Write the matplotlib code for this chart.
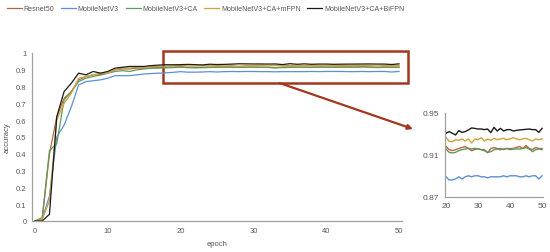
import matplotlib
matplotlib.use("Agg")
import matplotlib.pyplot as plt
from matplotlib.patches import Rectangle
from matplotlib.ticker import FormatStrFormatter, FuncFormatter

plt.rcParams['font.family'] = ['Liberation Sans', 'DejaVu Sans']

epochs = list(range(51))

resnet50 = [0, 0.01, 0.40, 0.62, 0.73, 0.77, 0.84, 0.86, 0.87, 0.87, 0.88, 0.90, 0.905, 0.905, 0.91, 0.91,
            0.91, 0.914, 0.915, 0.916,
            0.918, 0.915, 0.914, 0.915, 0.916, 0.917, 0.918, 0.916, 0.914, 0.915, 0.916, 0.915, 0.915,
            0.912, 0.916, 0.917, 0.916, 0.916, 0.915, 0.916, 0.916, 0.916, 0.917, 0.918, 0.916, 0.919,
            0.916, 0.915, 0.917, 0.916, 0.916]
mobilenetv3 = [0, 0.01, 0.15, 0.50, 0.57, 0.68, 0.81, 0.83, 0.835, 0.84, 0.85, 0.865, 0.865, 0.865, 0.87,
               0.875, 0.878, 0.88, 0.882, 0.885,
               0.889, 0.886, 0.886, 0.887, 0.889, 0.887, 0.889, 0.890, 0.889, 0.890, 0.890, 0.889, 0.889,
               0.888, 0.889, 0.889, 0.889, 0.889, 0.890, 0.889, 0.890, 0.890, 0.890, 0.889, 0.889, 0.890,
               0.889, 0.890, 0.890, 0.887, 0.890]
mnv3_ca = [0, 0.02, 0.42, 0.46, 0.72, 0.77, 0.83, 0.85, 0.86, 0.87, 0.88, 0.89, 0.895, 0.89, 0.90, 0.905,
           0.91, 0.91, 0.912, 0.913,
           0.9156, 0.9124, 0.9118, 0.9124, 0.914, 0.9149, 0.9156, 0.9162, 0.9156, 0.9162, 0.9156, 0.9149,
           0.914, 0.9124, 0.913, 0.9149, 0.9156, 0.9149, 0.9156, 0.9162, 0.9149, 0.9156, 0.9156, 0.9156,
           0.9162, 0.9169, 0.9156, 0.913, 0.9149, 0.9156, 0.9149]
mnv3_ca_mfpn = [0, 0.01, 0.12, 0.60, 0.70, 0.76, 0.85, 0.86, 0.87, 0.88, 0.88, 0.90, 0.91, 0.91, 0.915,
                0.915, 0.92, 0.92, 0.922, 0.924,
                0.9267, 0.9229, 0.9226, 0.9245, 0.9239, 0.9252, 0.9232, 0.9252, 0.9213, 0.9252, 0.9245,
                0.9264, 0.9232, 0.9252, 0.9239, 0.9258, 0.9245, 0.9252, 0.9258, 0.9245, 0.9252, 0.9264,
                0.9252, 0.9245, 0.9252, 0.9258, 0.9245, 0.9232, 0.9252, 0.9245, 0.9252]
mnv3_ca_bifpn = [0, 0.0, 0.04, 0.62, 0.77, 0.82, 0.88, 0.87, 0.89, 0.88, 0.89, 0.91, 0.915, 0.92, 0.92,
                 0.92, 0.925, 0.928, 0.93, 0.93,
                 0.9306, 0.9322, 0.9306, 0.929, 0.9331, 0.9315, 0.9322, 0.9338, 0.9357, 0.9353, 0.9347,
                 0.9347, 0.9341, 0.9347, 0.9312, 0.9363, 0.9328, 0.9353, 0.9328, 0.9341, 0.9341, 0.9328,
                 0.9334, 0.9338, 0.9341, 0.9344, 0.9347, 0.9341, 0.9341, 0.9315, 0.9353]

labels = ['Resnet50', 'MobileNetV3', 'MobileNetV3+CA', 'MobileNetV3+CA+mFPN', 'MobileNetV3+CA+BiFPN']
colors = ['#b8653e', '#5b8fd6', '#5f9a5c', '#cfa23c', '#1a1a1a']
series = [resnet50, mobilenetv3, mnv3_ca, mnv3_ca_mfpn, mnv3_ca_bifpn]

tick_color = '#595959'
box_color = '#a3361e'

fig = plt.figure(figsize=(5.5, 2.53), dpi=100)

# main chart
ax = fig.add_axes([32 / 550, 1 - 222 / 253, 370 / 550, 168 / 253])
for y, c, lab in zip(series, colors, labels):
    ax.plot(epochs, y, color=c, lw=0.9, label=lab)
ax.set_xlim(-0.4, 50.4)
ax.set_ylim(0, 1)
ax.set_xticks(range(0, 51, 10))
ax.set_yticks([i / 10 for i in range(11)])
ax.yaxis.set_major_formatter(FuncFormatter(lambda v, p: f'{v:g}'))
ax.tick_params(length=0, labelsize=5.5, labelcolor=tick_color, pad=4)
for s in ['top', 'right']:
    ax.spines[s].set_visible(False)
for s in ['left', 'bottom']:
    ax.spines[s].set_color('#a0a0a0')
    ax.spines[s].set_linewidth(0.9)
ax.set_xlabel('epoch', fontsize=5.5, color=tick_color, labelpad=5)
ax.set_ylabel('accuracy', fontsize=5.5, color=tick_color, labelpad=4)

# zoom box and arrow
ax.add_patch(Rectangle((17.6, 0.821), 33.6, 0.191, fill=False, ec=box_color, lw=1.8, clip_on=False))
ax.annotate('', xy=(413 / 550, 1 - 130 / 253), xycoords='figure fraction',
            xytext=(33.6, 0.821), textcoords='data',
            arrowprops=dict(arrowstyle='-|>', color=box_color, lw=1.6, mutation_scale=7,
                            shrinkA=0, shrinkB=0))

fig.legend(loc='upper left', bbox_to_anchor=(7 / 550, 1 - 6 / 253), ncol=5, frameon=False,
           fontsize=5.1, borderpad=0, borderaxespad=0,
           handlelength=2.1, handletextpad=0.25, columnspacing=0.95, labelcolor=tick_color)

# inset
ins = fig.add_axes([445 / 550, 1 - 197.7 / 253, 98 / 550, 83.7 / 253])
for y, c in zip(series, colors):
    ins.plot(epochs[20:], y[20:], color=c, lw=1.0)
ins.set_xlim(19.7, 50.3)
ins.set_ylim(0.87, 0.95)
ins.set_xticks([20, 30, 40, 50])
ins.set_yticks([0.87, 0.91, 0.95])
ins.yaxis.set_major_formatter(FormatStrFormatter('%.2f'))
ins.tick_params(length=0, labelsize=6, labelcolor=tick_color, pad=4)
for s in ['top', 'right']:
    ins.spines[s].set_visible(False)
for s in ['left', 'bottom']:
    ins.spines[s].set_color('#a0a0a0')
    ins.spines[s].set_linewidth(0.9)

fig.savefig('out.png', dpi=100)
